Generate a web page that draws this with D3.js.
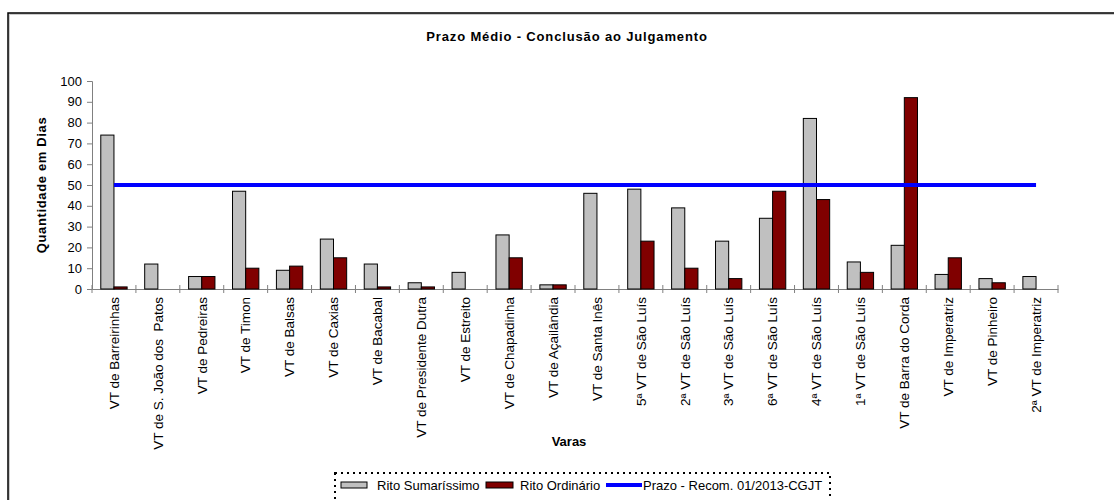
<!DOCTYPE html>
<html>
<head>
  <meta charset="utf-8">
  <title>Prazo Médio - Conclusão ao Julgamento</title>
  <script src="https://d3js.org/d3.v7.min.js"></script>
<style>
  body { margin: 0; background: #fff; }
  text { font-family: "Liberation Sans", Arial, sans-serif; fill: #000; white-space: pre; }
</style>
</head>
<body>
  <div id="grafico"></div>
<script>
  // Dados
  const varas = ["VT de Barreirinhas", "VT de S. João dos  Patos", "VT de Pedreiras", "VT de Timon",
    "VT de Balsas", "VT de Caxias", "VT de Bacabal", "VT de Presidente Dutra", "VT de Estreito",
    "VT de Chapadinha", "VT de Açailândia", "VT de Santa Inês", "5ª VT de São Luís", "2ª VT de São Luís",
    "3ª VT de São Luís", "6ª VT de São Luís", "4ª VT de São Luís", "1ª VT de São Luís",
    "VT de Barra do Corda", "VT de Imperatriz", "VT de Pinheiro", "2ª VT de Imperatriz"];
  const sumarissimo = [74, 12, 6, 47, 9, 24, 12, 3, 8, 26, 2, 46, 48, 39, 23, 34, 82, 13, 21, 7, 5, 6];
  const ordinario   = [1, 0, 6, 10, 11, 15, 1, 1, 0, 15, 2, 0, 23, 10, 5, 47, 43, 8, 92, 15, 3, 0];
  const prazo = 50;
  const yTicks = [0, 10, 20, 30, 40, 50, 60, 70, 80, 90, 100];
  const series = ["Rito Sumaríssimo", "Rito Ordinário", "Prazo - Recom. 01/2013-CGJT"];

  const W = 1114, H = 500;
  const margin = {top: 81, left: 92};
  const width = 1058 - margin.left;
  const height = 289 - margin.top;

  const svg = d3.select("#grafico").append("svg")
      .attr("width", W).attr("height", H);

  // moldura externa
  svg.append("rect")
      .attr("x", 9).attr("y", 14).attr("width", W).attr("height", H)
      .attr("fill", "none").attr("stroke", "#ccc").attr("stroke-width", 2);
  svg.append("rect")
      .attr("x", 8).attr("y", 13).attr("width", W).attr("height", H)
      .attr("fill", "none").attr("stroke", "#000").attr("stroke-width", 1.5);

  svg.append("text")
      .attr("x", 567).attr("y", 41)
      .attr("text-anchor", "middle")
      .style("font-size", "13px").style("font-weight", "bold").style("letter-spacing", "0.85px")
      .text("Prazo Médio - Conclusão ao Julgamento");

  const g = svg.append("g").attr("transform", `translate(${margin.left},${margin.top})`);

  const x = d3.scaleBand().domain(varas).range([0, width]);
  const y = d3.scaleLinear().domain([0, 100]).range([height, 0]);
  const bw = x.bandwidth() * 0.3;

  // eixo Y
  const yAxis = g.append("g")
      .call(d3.axisLeft(y).tickValues(yTicks).tickSize(5).tickPadding(5));
  yAxis.select(".domain").attr("stroke", "#808080");
  yAxis.selectAll(".tick line").attr("stroke", "#808080");
  yAxis.selectAll(".tick text").style("font-size", "13px").attr("fill", "#000");

  // eixo X com marcas entre categorias
  const xAxis = g.append("g").attr("transform", `translate(0,${height})`)
      .call(d3.axisBottom(x).tickSize(0).tickPadding(0));
  xAxis.select(".domain").attr("stroke", "#808080");
  xAxis.selectAll(".tick text")
      .style("font-size", "13.5px")
      .attr("text-anchor", "end")
      .attr("transform", "rotate(-90)")
      .attr("x", -8).attr("y", 0).attr("dy", "0.35em")
      .attr("fill", "#000");
  g.selectAll(".sep")
      .data(d3.range(varas.length + 1))
      .enter().append("line")
      .attr("x1", i => i * x.step()).attr("x2", i => i * x.step())
      .attr("y1", height - 4).attr("y2", height + 4)
      .attr("stroke", "#808080");

  // barras
  g.selectAll(".sum")
      .data(sumarissimo)
      .enter().append("rect")
      .attr("x", (d, i) => x(varas[i]) + x.bandwidth() / 2 - bw)
      .attr("y", d => y(d))
      .attr("width", bw)
      .attr("height", d => height - y(d))
      .attr("fill", "#C0C0C0").attr("stroke", "#000").attr("stroke-width", 1);

  g.selectAll(".ord")
      .data(ordinario)
      .enter().append("rect")
      .attr("x", (d, i) => x(varas[i]) + x.bandwidth() / 2)
      .attr("y", d => y(d))
      .attr("width", bw)
      .attr("height", d => height - y(d))
      .attr("fill", "#800000").attr("stroke", "#000").attr("stroke-width", 1);

  // linha do prazo
  g.append("path")
      .datum(varas)
      .attr("fill", "none").attr("stroke", "#0000FF").attr("stroke-width", 4)
      .attr("d", d3.line().x(d => x(d) + x.bandwidth() / 2).y(() => y(prazo)));

  // títulos dos eixos
  svg.append("text")
      .attr("transform", `translate(46,${margin.top + height / 2}) rotate(-90)`)
      .attr("text-anchor", "middle")
      .style("font-size", "13px").style("font-weight", "bold").style("letter-spacing", "0.65px")
      .text("Quantidade em Dias");
  svg.append("text")
      .attr("x", 569).attr("y", 446)
      .attr("text-anchor", "middle")
      .style("font-size", "13px").style("font-weight", "bold")
      .text("Varas");

  // legenda
  const legend = svg.append("g");
  legend.append("rect")
      .attr("x", 335).attr("y", 473).attr("width", 495).attr("height", 40)
      .attr("fill", "none").attr("stroke", "#000").attr("stroke-width", 2)
      .attr("stroke-dasharray", "2,4");
  legend.append("rect").attr("x", 341).attr("y", 482).attr("width", 26).attr("height", 6)
      .attr("fill", "#C0C0C0").attr("stroke", "#000");
  legend.append("text").attr("x", 377).attr("y", 490).style("font-size", "13px").text(series[0]);
  legend.append("rect").attr("x", 486).attr("y", 482).attr("width", 27).attr("height", 6)
      .attr("fill", "#800000").attr("stroke", "#000");
  legend.append("text").attr("x", 520).attr("y", 490).style("font-size", "13px").text(series[1]);
  legend.append("line").attr("x1", 606).attr("x2", 642).attr("y1", 485).attr("y2", 485)
      .attr("stroke", "#0000FF").attr("stroke-width", 4);
  legend.append("text").attr("x", 643).attr("y", 490).style("font-size", "13px").text(series[2]);
</script>
</body>
</html>
